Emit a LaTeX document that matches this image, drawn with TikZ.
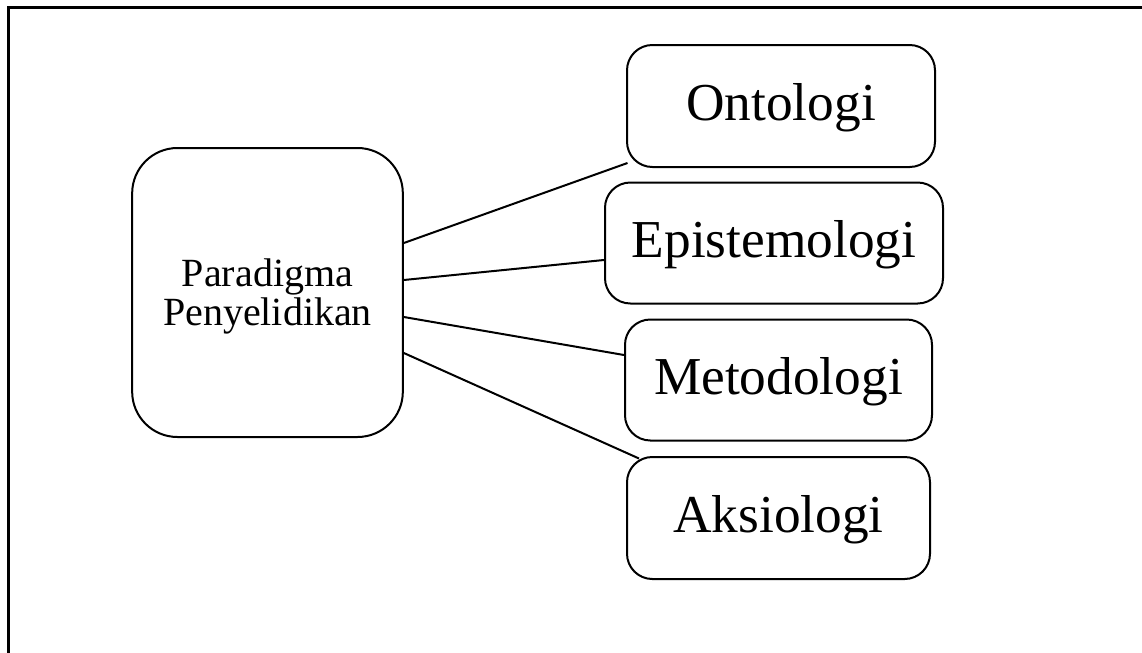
\documentclass[tikz,border=0pt]{standalone}
\usepackage{fontspec}
\setmainfont{Liberation Serif}
\usetikzlibrary{calc}
\begin{document}
\begin{tikzpicture}[x=0.75pt,y=-0.75pt,
  box/.style={draw, line width=1.5pt, rounded corners=19pt, rectangle,
    inner sep=0pt, align=center, text height=28pt, text depth=6pt,
    font=\fontsize{40}{44}\selectfont},
  link/.style={line width=1.5pt},
  frameline/.style={line width=2.25pt}]
\useasboundingbox (0,0) rectangle (1142,653);
% partial outer frame
\draw[frameline] (8,653) -- (8,7) -- (1142,7);
% central concept: rounded frame and its two-line caption
\node[draw, line width=1.5pt, rectangle, rounded corners=34pt,
  minimum width=203pt, minimum height=216.75pt] (para) at (267.5,292.5) {};
\node[align=center, inner sep=0pt, font=\fontsize{30}{29}\selectfont]
  (paratext) at ($(para.center)+(0,4)$) {Paradigma\\Penyelidikan};
% four branches
\node[box, minimum width=231pt, minimum height=91.5pt] (onto) at (781,106) {Ontologi};
\node[box, minimum width=253.5pt, minimum height=90.75pt] (epi) at (774,243) {Epistemologi};
\node[box, minimum width=230.25pt, minimum height=90.75pt] (meto) at (778.5,380) {Metodologi};
\node[box, minimum width=227.25pt, minimum height=91.5pt] (aksi) at (778.5,518) {Aksiologi};
% connectors
\draw[link] ($(para.east)+(0,-49.5)$) -- ($(onto.south west)+(1.5,-5)$);
\draw[link] ($(para.east)+(0,-12.5)$) -- ($(epi.west)+(0,17)$);
\draw[link] ($(para.east)+(0,24.5)$) -- ($(meto.west)+(0,-25)$);
\draw[link] ($(para.east)+(0,60.5)$) -- ($(aksi.north west)+(13,2.5)$);
\end{tikzpicture}
\end{document}
